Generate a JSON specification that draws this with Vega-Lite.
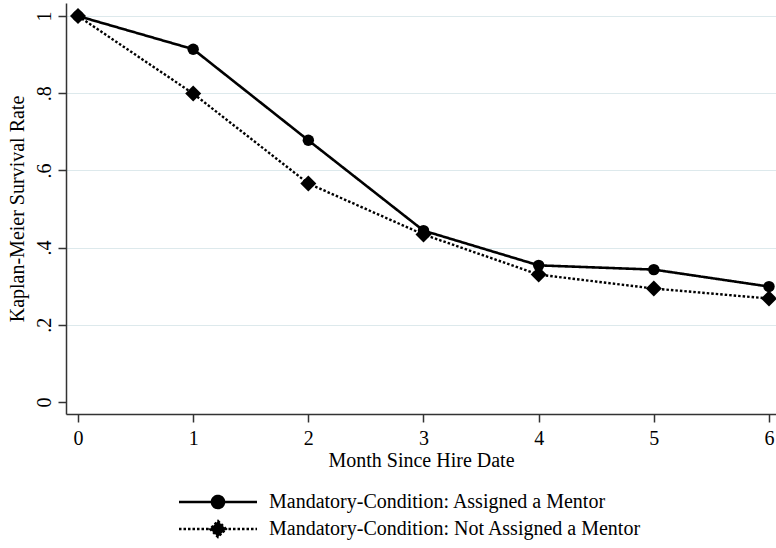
{
  "$schema": "https://vega.github.io/schema/vega-lite/v6.json",
  "width": 710,
  "height": 411,
  "autosize": "none",
  "padding": {"left": 66, "top": 3, "right": 0, "bottom": 134},
  "background": "white",
  "config": {
    "view": {"stroke": null},
    "font": "Liberation Serif",
    "axis": {
      "labelFont": "Liberation Serif",
      "titleFont": "Liberation Serif",
      "labelFontSize": 20,
      "titleFontSize": 20,
      "titleFontWeight": "normal",
      "labelColor": "black",
      "titleColor": "black",
      "domainColor": "#333333",
      "domainWidth": 1.5,
      "tickColor": "#333333",
      "tickWidth": 1.5,
      "tickSize": 8
    }
  },
  "data": {
    "values": [
      {"month": 0, "group": "Mandatory-Condition: Assigned a Mentor", "rate": 1.0},
      {"month": 1, "group": "Mandatory-Condition: Assigned a Mentor", "rate": 0.914},
      {"month": 2, "group": "Mandatory-Condition: Assigned a Mentor", "rate": 0.678},
      {"month": 3, "group": "Mandatory-Condition: Assigned a Mentor", "rate": 0.444},
      {"month": 4, "group": "Mandatory-Condition: Assigned a Mentor", "rate": 0.354},
      {"month": 5, "group": "Mandatory-Condition: Assigned a Mentor", "rate": 0.343},
      {"month": 6, "group": "Mandatory-Condition: Assigned a Mentor", "rate": 0.299},
      {"month": 0, "group": "Mandatory-Condition: Not Assigned a Mentor", "rate": 1.0},
      {"month": 1, "group": "Mandatory-Condition: Not Assigned a Mentor", "rate": 0.799},
      {"month": 2, "group": "Mandatory-Condition: Not Assigned a Mentor", "rate": 0.566},
      {"month": 3, "group": "Mandatory-Condition: Not Assigned a Mentor", "rate": 0.434},
      {"month": 4, "group": "Mandatory-Condition: Not Assigned a Mentor", "rate": 0.330},
      {"month": 5, "group": "Mandatory-Condition: Not Assigned a Mentor", "rate": 0.294},
      {"month": 6, "group": "Mandatory-Condition: Not Assigned a Mentor", "rate": 0.268}
    ]
  },
  "encoding": {
    "x": {
      "field": "month", "type": "quantitative",
      "scale": {"domain": [-0.1042, 6.0608], "nice": false, "zero": false},
      "axis": {"values": [0, 1, 2, 3, 4, 5, 6], "grid": false, "title": "Month Since Hire Date", "labelPadding": 6, "titlePadding": 2, "format": "d"}
    },
    "y": {
      "field": "rate", "type": "quantitative",
      "scale": {"domain": [-0.0311, 1.0337], "nice": false, "zero": false},
      "axis": {
        "values": [0, 0.2, 0.4, 0.6, 0.8, 1],
        "title": "Kaplan-Meier Survival Rate",
        "labelAngle": 270,
        "labelPadding": 4,
        "titlePadding": 7,
        "labelExpr": "replace(format(datum.value, '.1~f'), '0.', '.')",
        "grid": true,
        "gridColor": "#dde9ec",
        "gridWidth": 1,
        "gridOpacity": {"condition": {"test": "datum.value === 0", "value": 0}, "value": 1}
      }
    }
  },
  "layer": [
    {
      "mark": {"type": "line", "color": "black"},
      "encoding": {
        "strokeDash": {
          "field": "group", "type": "nominal",
          "scale": {"domain": ["Mandatory-Condition: Assigned a Mentor", "Mandatory-Condition: Not Assigned a Mentor"], "range": [[1, 0], [2.5, 2]]},
          "legend": {
            "orient": "none",
            "legendX": 142,
            "legendY": 489,
            "title": null,
            "padding": 0,
            "labelFont": "Liberation Serif",
            "labelFontSize": 20,
            "labelColor": "black",
            "labelLimit": 0,
            "labelOffset": 41,
            "symbolSize": 4,
            "symbolStrokeWidth": 2,
            "symbolStrokeColor": "black",
            "symbolFillColor": "black",
            "rowPadding": 2,
            "encode": {
              "symbols": {
                "update": {
                  "shape": {"signal": "datum.index === 0 ? 'M-39,0H39M-6,0A6,6,0,1,0,6,0A6,6,0,1,0,-6,0Z' : 'M-39,0H39M0,-8L8,0L0,8L-8,0Z'"},
                  "fill": {"value": "black"},
                  "stroke": {"value": "black"},
                  "strokeWidth": {"signal": "datum.index === 0 ? 2.5 : 1.5"}
                }
              }
            }
          }
        },
        "strokeWidth": {
          "field": "group", "type": "nominal",
          "scale": {"domain": ["Mandatory-Condition: Assigned a Mentor", "Mandatory-Condition: Not Assigned a Mentor"], "range": [2.6, 2.4]},
          "legend": null
        }
      }
    },
    {
      "transform": [{"filter": "datum.group === 'Mandatory-Condition: Assigned a Mentor'"}],
      "mark": {"type": "point", "shape": "circle", "size": 130, "filled": true, "color": "black", "opacity": 1}
    },
    {
      "transform": [{"filter": "datum.group === 'Mandatory-Condition: Not Assigned a Mentor'"}],
      "mark": {"type": "point", "shape": "diamond", "size": 256, "filled": true, "color": "black", "opacity": 1}
    }
  ]
}
